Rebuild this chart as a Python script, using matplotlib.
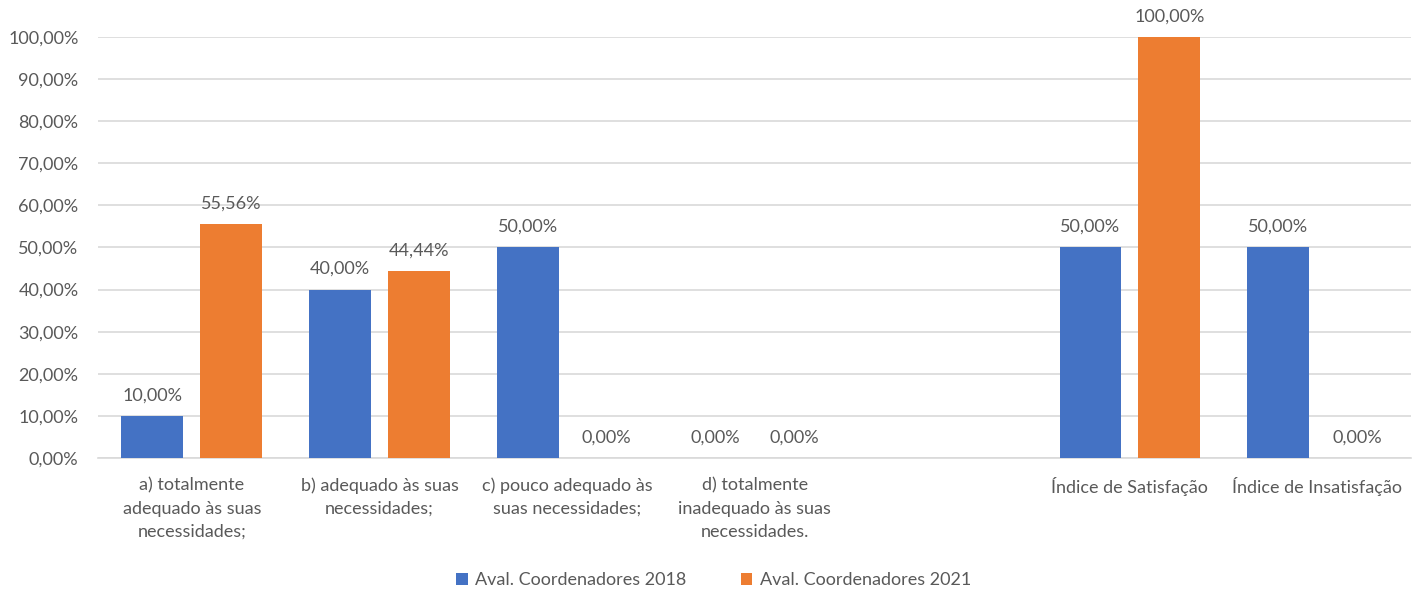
import matplotlib.pyplot as plt
import numpy as np

plt.rcParams['font.family'] = ['Lato', 'DejaVu Sans']

# data
categorias = ['a) totalmente\nadequado às suas\nnecessidades;',
              'b) adequado às suas\nnecessidades;',
              'c) pouco adequado às\nsuas necessidades;',
              'd) totalmente\ninadequado às suas\nnecessidades.',
              '',
              'Índice de Satisfação',
              'Índice de Insatisfação']
aval_2018 = [10.00, 40.00, 50.00, 0.00, None, 50.00, 50.00]
aval_2021 = [55.56, 44.44, 0.00, 0.00, None, 100.00, 0.00]
series = ['Aval. Coordenadores 2018', 'Aval. Coordenadores 2021']
cores = ['#4472C4', '#ED7D31']

cinza = '#595959'

def fmt(v):
    return ('%.2f%%' % v).replace('.', ',')

fig = plt.figure(figsize=(14.27, 5.97), dpi=100)
ax = fig.add_axes([0.0687, 0.233, 0.9203, 0.705])

x = np.arange(len(categorias))
w = 0.33
off = 0.21
for vals, cor, nome, d in zip([aval_2018, aval_2021], cores, series, [-off, off]):
    xs = [xi + d for xi, v in zip(x, vals) if v is not None]
    ys = [v for v in vals if v is not None]
    bars = ax.bar(xs, ys, width=w, color=cor, label=nome, zorder=3)
    for b, v in zip(bars, ys):
        ax.annotate(fmt(v), (b.get_x() + b.get_width() / 2, v),
                    xytext=(0, 9), textcoords='offset points',
                    ha='center', va='bottom', fontsize=13, color=cinza)

ax.set_xlim(-0.5, len(categorias) - 0.5)
ax.set_ylim(0, 100)
ax.set_yticks(np.arange(0, 101, 10))
ax.set_yticklabels([fmt(t) for t in np.arange(0, 101, 10)])
ax.set_xticks(x)
ax.set_xticklabels(categorias, linespacing=1.55)
ax.tick_params(axis='both', length=0, labelsize=13, colors=cinza)
ax.tick_params(axis='x', pad=14)
ax.tick_params(axis='y', pad=14)
ax.yaxis.grid(True, color='#d9d9d9', linewidth=1.2, zorder=0)
for s in ['top', 'right', 'left']:
    ax.spines[s].set_visible(False)
ax.spines['bottom'].set_color('#d9d9d9')
ax.spines['bottom'].set_linewidth(1.2)

fig.legend(loc='center', bbox_to_anchor=(0.5, 0.028), ncol=2, frameon=False,
           fontsize=13, labelcolor=cinza, handlelength=0.65, handleheight=0.65,
           handletextpad=0.4, columnspacing=3.0)

fig.savefig('out.png', dpi=100)
